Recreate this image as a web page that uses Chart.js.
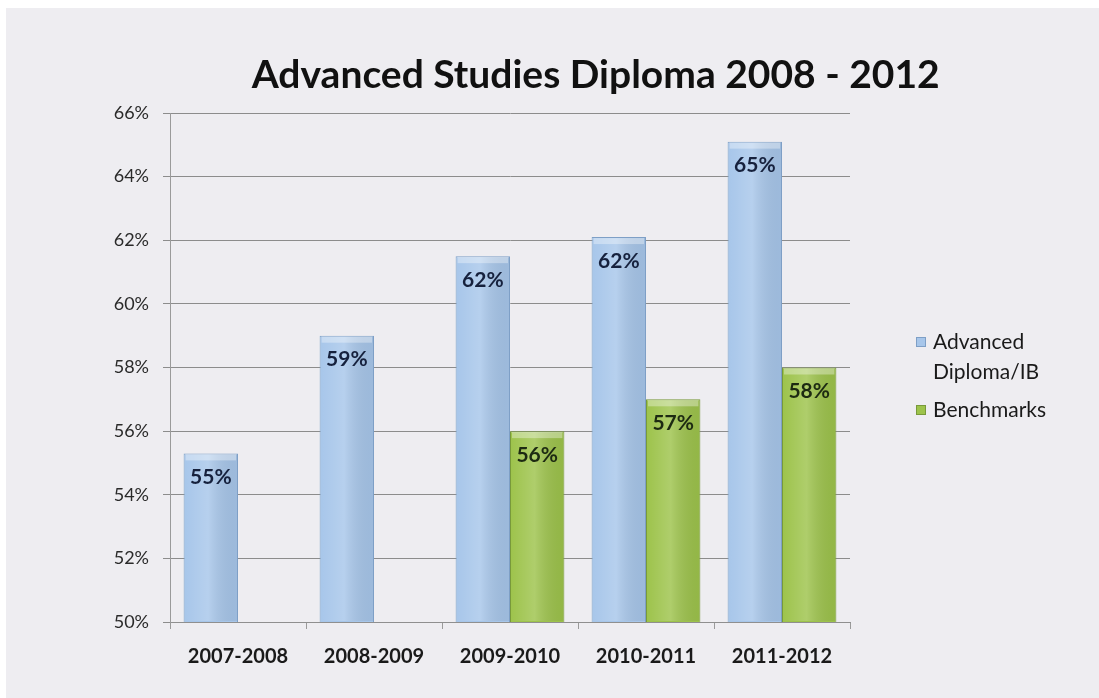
<!DOCTYPE html>
<html>
<head>
<meta charset="utf-8">
<style>
  html, body { margin: 0; padding: 0; background: #ffffff; }
  #wrap { width: 1099px; height: 698px; position: relative; }
</style>
<script src="https://cdn.jsdelivr.net/npm/chart.js@4/dist/chart.umd.min.js"></script>
</head>
<body>
<div id="wrap"><canvas id="chart" width="1099" height="698"></canvas></div>
<script>
// School years on the x axis
const categories = ['2007-2008', '2008-2009', '2009-2010', '2010-2011', '2011-2012'];
// Share of students earning each distinction (percent)
const advancedDiploma = [55.3, 59.0, 61.5, 62.1, 65.1];
const benchmarks = [null, null, 56.0, 57.0, 58.0];
// Legend wording (first label wraps onto two lines)
const seriesNames = ['Advanced Diploma/IB', 'Benchmarks'];
const legendLines = [['Advanced', 'Diploma/IB'], ['Benchmarks']];
const titleText = 'Advanced Studies Diploma 2008 - 2012';
// Axis range
const yMin = 50, yMax = 66, yStep = 2;

const FONT = 'Lato, "Open Sans", "DejaVu Sans", sans-serif';
const blueFill = '#a7c6ea', blueEdge = '#7e9fc6';
const greenFill = '#9dc34b', greenEdge = '#78993a';

// Soft slide-like panel behind everything
const panelBg = {
  id: 'panelBg',
  beforeDraw(chart) {
    const c = chart.ctx;
    c.save();
    c.fillStyle = '#ffffff';
    c.fillRect(0, 0, chart.width, chart.height);
    c.fillStyle = '#eeedf1';
    c.fillRect(6, 8, chart.width - 6, chart.height - 8);
    c.restore();
  }
};

// Title drawn over the plot, shifted toward the legend side
const titlePlugin = {
  id: 'titlePlugin',
  afterDraw(chart) {
    const c = chart.ctx, a = chart.chartArea;
    c.save();
    c.font = 'bold 39px ' + FONT;
    c.fillStyle = '#111111';
    c.textAlign = 'center';
    c.textBaseline = 'middle';
    c.fillText(titleText, a.left + (a.right - a.left) * 0.626, a.top - 38);
    c.restore();
  }
};

// Percent labels inside the top of each bar
const barLabels = {
  id: 'barLabels',
  afterDatasetsDraw(chart) {
    const c = chart.ctx;
    c.save();
    c.font = 'bold 21px ' + FONT;
    c.textAlign = 'center';
    c.textBaseline = 'middle';
    chart.data.datasets.forEach((ds, di) => {
      const meta = chart.getDatasetMeta(di);
      meta.data.forEach((bar, i) => {
        const v = ds.data[i];
        if (v === null || v === undefined) return;
        c.fillStyle = di === 0 ? '#16213d' : '#1d2a12';
        c.fillText(Math.round(v) + '%', bar.x, bar.y + 24);
      });
    });
    c.restore();
  }
};

// Bar shading: lighter centre stripe and a pale top cap
const barShade = {
  id: 'barShade',
  afterDatasetsDraw(chart) {
    const c = chart.ctx, a = chart.chartArea;
    chart.data.datasets.forEach((ds, di) => {
      const meta = chart.getDatasetMeta(di);
      meta.data.forEach((bar, i) => {
        if (ds.data[i] === null) return;
        const w = bar.width, x0 = bar.x - w / 2, top = bar.y;
        const bottom = Math.min(bar.base, a.bottom);
        const h = bottom - top;
        const g = c.createLinearGradient(x0, 0, x0 + w, 0);
        g.addColorStop(0, 'rgba(255,255,255,0)');
        g.addColorStop(0.45, 'rgba(255,255,255,0.18)');
        g.addColorStop(1, 'rgba(0,0,0,0.06)');
        c.save();
        c.fillStyle = g;
        c.fillRect(x0 + 1, top + 1, w - 2, h - 2);
        c.fillStyle = 'rgba(255,255,255,0.35)';
        c.fillRect(x0 + 2, top + 1, w - 4, 6);
        c.restore();
      });
    });
  }
};

// Legend at the right with a wrapped first entry
const sideLegend = {
  id: 'sideLegend',
  afterDraw(chart) {
    const c = chart.ctx, a = chart.chartArea;
    const x = a.right + 66;
    let y = a.top + 229;
    c.save();
    c.font = '21px ' + FONT;
    c.textBaseline = 'middle';
    c.textAlign = 'left';
    chart.data.datasets.forEach((ds, di) => {
      c.fillStyle = ds.backgroundColor;
      c.fillRect(x, y - 5, 10, 10);
      c.strokeStyle = ds.borderColor;
      c.lineWidth = 1;
      c.strokeRect(x + 0.5, y - 4.5, 9, 9);
      c.fillStyle = '#1a1a1a';
      legendLines[di].forEach((line, li) => {
        c.fillText(line, x + 17, y + li * 30);
      });
      y += legendLines[di].length * 30 + 8;
    });
    c.restore();
  }
};

new Chart(document.getElementById('chart'), {
  type: 'bar',
  data: {
    labels: categories,
    datasets: [
      {
        label: seriesNames[0],
        data: advancedDiploma,
        backgroundColor: blueFill,
        borderColor: blueEdge,
        borderWidth: 1
      },
      {
        label: seriesNames[1],
        data: benchmarks,
        backgroundColor: greenFill,
        borderColor: greenEdge,
        borderWidth: 1
      }
    ]
  },
  options: {
    responsive: false,
    animation: false,
    layout: { padding: { left: 110, right: 249, top: 113, bottom: 16 } },
    datasets: { bar: { categoryPercentage: 0.8, barPercentage: 1.0 } },
    plugins: {
      legend: { display: false },
      title: { display: false },
      tooltip: { enabled: false }
    },
    scales: {
      x: {
        grid: { display: true, drawOnChartArea: false, offset: true, tickLength: 7, color: '#9a9a9a' },
        border: { display: true, color: '#8f8f8f' },
        ticks: { font: { family: FONT, size: 20, weight: 'bold' }, color: '#1a1a1a', padding: 16 },
        afterFit(s) { s.height = 60; }
      },
      y: {
        min: yMin,
        max: yMax,
        ticks: {
          stepSize: yStep,
          font: { family: FONT, size: 18 },
          color: '#2a2a2a',
          padding: 14,
          callback: v => v + '%'
        },
        grid: { color: '#8c8c8c', lineWidth: 1, tickLength: 7 },
        border: { display: true, color: '#9a9a9a' },
        afterFit(s) { s.width = 60; }
      }
    }
  },
  plugins: [panelBg, barShade, barLabels, sideLegend, titlePlugin]
});
</script>
</body>
</html>
